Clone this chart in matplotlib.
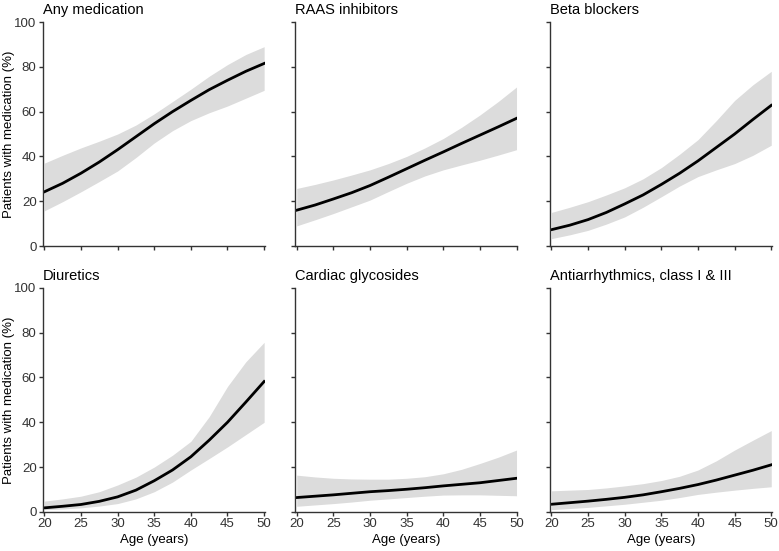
import numpy as np
import matplotlib
matplotlib.use("Agg")
import matplotlib.pyplot as plt

plt.rcParams['font.family'] = ['Liberation Sans', 'DejaVu Sans']

age = [20, 22.5, 25, 27.5, 30, 32.5, 35, 37.5, 40, 42.5, 45, 47.5, 50]

titles = ['Any medication', 'RAAS inhibitors', 'Beta blockers',
          'Diuretics', 'Cardiac glycosides', 'Antiarrhythmics, class I & III']

# estimate, upper and lower bound (%) per age
any_med = [24.2, 28, 32.5, 37.5, 43, 48.8, 54.6, 60, 65, 69.8, 74, 78, 81.5]
any_med_hi = [37, 40.5, 43.8, 46.8, 50, 54, 59, 64.5, 70, 75.8, 81, 85.5, 89]
any_med_lo = [15.7, 19.8, 24.2, 28.8, 33.5, 39.5, 46, 51.5, 56, 59.5, 62.5, 66, 69.5]

raas = [16, 18.3, 21, 23.8, 27, 30.7, 34.5, 38.3, 42, 45.8, 49.5, 53.2, 57]
raas_hi = [25.7, 27.5, 29.5, 31.7, 34, 36.8, 40, 43.8, 48, 53, 58.5, 64.5, 71]
raas_lo = [9, 11.7, 14.5, 17.5, 20.5, 24.3, 28, 31.3, 34, 36.2, 38.3, 40.6, 43]

beta = [7.3, 9.3, 11.8, 15, 18.8, 22.8, 27.5, 32.5, 38, 44, 50, 56.5, 62.8]
beta_hi = [15, 17.3, 19.8, 22.8, 26, 30, 35, 41, 47.5, 56, 65, 72, 78]
beta_lo = [3.3, 5, 7, 9.8, 13, 17.3, 22, 26.8, 31, 34, 36.8, 40.5, 45]

diur = [1.8, 2.5, 3.3, 4.7, 6.7, 9.7, 13.9, 18.7, 24.6, 32, 40, 49, 58.2]
diur_hi = [4.8, 5.8, 7, 9, 12, 15.5, 20, 25.3, 31.5, 42.5, 56, 67, 75.7]
diur_lo = [1, 1.3, 1.8, 2.6, 3.7, 5.8, 9, 13.3, 18.7, 23.8, 29, 34.5, 40]

glyc = [6.4, 7, 7.6, 8.3, 9, 9.5, 10.1, 10.8, 11.6, 12.3, 13, 14, 15]
glyc_hi = [16.4, 15.6, 15, 14.7, 14.6, 14.6, 15, 15.7, 17, 19, 21.6, 24.4, 27.6]
glyc_lo = [2.5, 3.1, 3.7, 4.4, 5.2, 5.8, 6.4, 7, 7.5, 7.6, 7.6, 7.4, 7.2]

anti = [3.4, 4.1, 4.8, 5.6, 6.5, 7.6, 9, 10.5, 12.2, 14.2, 16.4, 18.6, 21]
anti_hi = [9.4, 9.7, 10, 10.7, 11.6, 12.6, 14, 15.9, 18.7, 22.8, 27.6, 32, 36.3]
anti_lo = [1, 1.5, 2, 2.7, 3.4, 4.3, 5.2, 6.4, 7.8, 8.8, 9.7, 10.5, 11.2]

series = [(any_med, any_med_lo, any_med_hi), (raas, raas_lo, raas_hi),
          (beta, beta_lo, beta_hi), (diur, diur_lo, diur_hi),
          (glyc, glyc_lo, glyc_hi), (anti, anti_lo, anti_hi)]

fig = plt.figure(figsize=(7.79, 5.51), dpi=100)

lefts = [0.055, 0.379, 0.706]
bottoms = [0.5535, 0.071]
w, h = 0.285, 0.4065
grey = '#333333'

for i, (title, (mid, lo, hi)) in enumerate(zip(titles, series)):
    row, col = divmod(i, 3)
    ax = fig.add_axes([lefts[col], bottoms[row], w, h])
    ax.fill_between(age, lo, hi, color='#dcdcdc', lw=0)
    ax.plot(age, mid, color='black', lw=2)
    ax.set_xlim(19.8, 50.1)
    ax.set_ylim(0, 100)
    ax.set_xticks(range(20, 51, 5))
    ax.set_yticks(range(0, 101, 20))
    for s in ['top', 'right']:
        ax.spines[s].set_visible(False)
    for s in ['left', 'bottom']:
        ax.spines[s].set_color(grey)
        ax.spines[s].set_linewidth(1)
    ax.tick_params(colors=grey, labelsize=9.5, length=3, width=1, pad=1.5,
                   labelcolor='#333333')
    ax.set_title(title, loc='left', fontsize=10.5, pad=6, x=0.0)
    if col == 0:
        ax.set_ylabel('Patients with medication (%)', fontsize=9.5)
        ax.yaxis.set_label_coords(-0.125, 0.5)
    else:
        ax.set_yticklabels([])
    if row == 1:
        ax.set_xlabel('Age (years)', fontsize=9.5, labelpad=3)
    else:
        ax.set_xticklabels([])

plt.savefig('out.png', dpi=100)
